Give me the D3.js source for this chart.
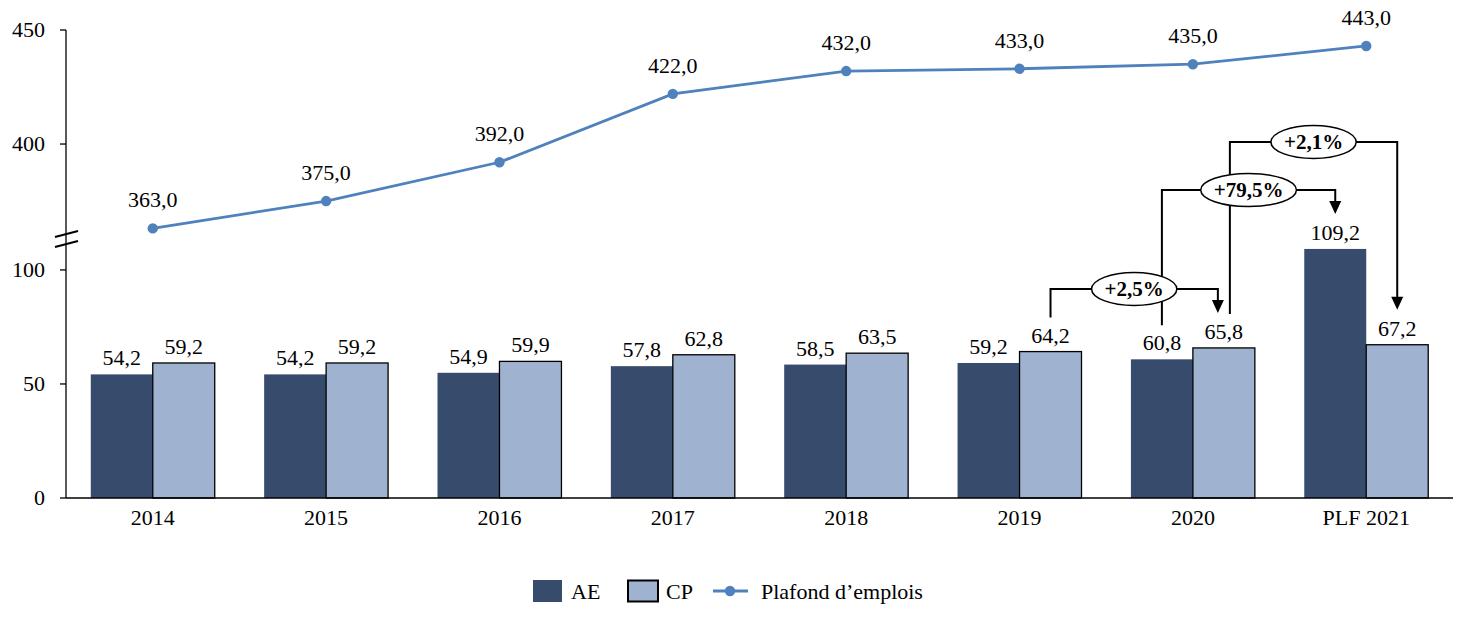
<!DOCTYPE html>
<html><head><meta charset="utf-8">
<script src="https://cdn.jsdelivr.net/npm/d3@7"></script>
<style>body{margin:0;background:#fff}svg{display:block}text{font-family:"Liberation Serif","DejaVu Serif",serif;fill:#000}</style>
</head><body><svg id="c" width="1468" height="617"></svg>
<script>
const categories = ["2014","2015","2016","2017","2018","2019","2020","PLF 2021"];
const seriesNames = ["AE","CP"];
const aeValues = [54.2,54.2,54.9,57.8,58.5,59.2,60.8,109.2];
const cpValues = [59.2,59.2,59.9,62.8,63.5,64.2,65.8,67.2];
const plafondValues = [363,375,392,422,432,433,435,443];
const lowTicks = [0,50,100];
const highTicks = [400,450];
const lineName = "Plafond d\u2019emplois";
const annotations = [
  {label:"+2,5%", from:["2019","CP"], to:["2020","CP"], level:289, fromDx:0, toDx:-6},
  {label:"+79,5%", from:["2020","AE"], to:["PLF 2021","AE"], level:190, fromDx:0, toDx:0},
  {label:"+2,1%", from:["2020","CP"], to:["PLF 2021","CP"], level:142, fromDx:6, toDx:0}
];

const FS = 22;
const fmt = v => v.toFixed(1).replace(".", ",");
const svg = d3.select("#c");
const colors = {AE:"#374c6d", CP:"#9fb2cf", line:"#4f81bd"};

const x = d3.scaleBand().domain(categories).range([66,1453]).paddingInner(0.285).paddingOuter(0.143);
const xs = d3.scaleBand().domain(seriesNames).range([0, x.bandwidth()]);
const yLow = d3.scaleLinear().domain([0,114]).range([498,238]);
const yHigh = d3.scaleLinear().domain([358.8,450]).range([238,30]);

const vals = {AE: aeValues, CP: cpValues};
const barData = [];
categories.forEach((c,i)=>seriesNames.forEach(s=>barData.push({c,s,v:vals[s][i]})));

// bars
svg.append("g").selectAll("rect").data(barData).join("rect")
  .attr("x", d=>x(d.c)+xs(d.s)).attr("y", d=>yLow(d.v))
  .attr("width", xs.bandwidth()).attr("height", d=>yLow(0)-yLow(d.v))
  .attr("fill", d=>colors[d.s])
  .attr("stroke", d=>d.s==="CP"?"#000":"none").attr("stroke-width",1.3);

// bar labels
svg.append("g").selectAll("text").data(barData).join("text")
  .attr("x", d=>x(d.c)+xs(d.s)+xs.bandwidth()/2).attr("y", d=>yLow(d.v)-9)
  .attr("text-anchor","middle").attr("font-size",FS).text(d=>fmt(d.v));

// axes
const ax = svg.append("g");
ax.append("line").attr("x1",66).attr("x2",66).attr("y1",yHigh(450)).attr("y2",yLow(0)).attr("stroke","#000").attr("stroke-width",1.3);
ax.append("line").attr("x1",66).attr("x2",1453).attr("y1",yLow(0)).attr("y2",yLow(0)).attr("stroke","#000").attr("stroke-width",1.3);
const tickAll = lowTicks.map(t=>({t,y:yLow(t)})).concat(highTicks.map(t=>({t,y:yHigh(t)})));
ax.selectAll(".tk").data(tickAll).join("line").attr("class","tk")
  .attr("x1",60).attr("x2",66).attr("y1",d=>d.y).attr("y2",d=>d.y).attr("stroke","#000").attr("stroke-width",1.3);
ax.selectAll(".tl").data(tickAll).join("text").attr("class","tl")
  .attr("x",45).attr("y",d=>d.y+7).attr("text-anchor","end").attr("font-size",FS).text(d=>d.t);
// break marks
[0,10].forEach(o=>ax.append("line").attr("x1",55).attr("y1",237+o).attr("x2",78).attr("y2",231+o).attr("stroke","#000").attr("stroke-width",2));
// x labels
ax.selectAll(".xl").data(categories).join("text").attr("class","xl")
  .attr("x",c=>x(c)+x.bandwidth()/2).attr("y",525).attr("text-anchor","middle").attr("font-size",FS).text(c=>c);

// line
const lineData = categories.map((c,i)=>({c,v:plafondValues[i]}));
svg.append("path").datum(lineData)
  .attr("d", d3.line().x(d=>x(d.c)+x.bandwidth()/2).y(d=>yHigh(d.v)))
  .attr("fill","none").attr("stroke",colors.line).attr("stroke-width",2.8);
svg.append("g").selectAll("circle").data(lineData).join("circle")
  .attr("cx",d=>x(d.c)+x.bandwidth()/2).attr("cy",d=>yHigh(d.v)).attr("r",5.2).attr("fill",colors.line);
svg.append("g").selectAll("text").data(lineData).join("text")
  .attr("x",d=>x(d.c)+x.bandwidth()/2).attr("y",d=>yHigh(d.v)-21)
  .attr("text-anchor","middle").attr("font-size",FS).text(d=>fmt(d.v));

// annotations
const valOf = (c,s)=>vals[s][categories.indexOf(c)];
const cx = (c,s)=>x(c)+xs(s)+xs.bandwidth()/2;
const ag = svg.append("g");
annotations.forEach(a=>{
  const x1 = cx(a.from[0],a.from[1])+a.fromDx;
  const y1 = yLow(valOf(a.from[0],a.from[1]))-9-25;
  const x2 = cx(a.to[0],a.to[1])+a.toDx;
  const y2 = yLow(valOf(a.to[0],a.to[1]))-9-26;
  ag.append("path").attr("d",`M${x1},${y1}V${a.level}H${x2}V${y2-12}`).attr("fill","none").attr("stroke","#000").attr("stroke-width",2);
  ag.append("path").attr("d",`M${x2-6},${y2-13}L${x2+6},${y2-13}L${x2},${y2}Z`).attr("fill","#000");
});
annotations.forEach(a=>{
  const x1 = cx(a.from[0],a.from[1])+a.fromDx;
  const x2 = cx(a.to[0],a.to[1])+a.toDx;
  const mx = (x1+x2)/2;
  const t = ag.append("text").attr("x",mx).attr("y",a.level+7).attr("text-anchor","middle")
    .attr("font-size",FS-1).attr("font-weight","bold").text(a.label);
  const w = t.node().getComputedTextLength();
  ag.insert("ellipse", function(){return t.node();}).attr("cx",mx).attr("cy",a.level).attr("rx",w/2+13).attr("ry",16.5)
    .attr("fill","#fff").attr("stroke","#000").attr("stroke-width",1.5);
});

// legend
const lg = svg.append("g");
lg.append("rect").attr("x",533).attr("y",580).attr("width",29).attr("height",22).attr("fill",colors.AE);
lg.append("text").attr("x",571).attr("y",599).attr("font-size",FS).text(seriesNames[0]);
lg.append("rect").attr("x",628).attr("y",580.5).attr("width",30).attr("height",21).attr("fill",colors.CP).attr("stroke","#000").attr("stroke-width",2);
lg.append("text").attr("x",666).attr("y",599).attr("font-size",FS).text(seriesNames[1]);
lg.append("line").attr("x1",713).attr("x2",748).attr("y1",591).attr("y2",591).attr("stroke",colors.line).attr("stroke-width",2.8);
lg.append("circle").attr("cx",730).attr("cy",591).attr("r",5.2).attr("fill",colors.line);
lg.append("text").attr("x",761).attr("y",599).attr("font-size",FS).text(lineName);
</script></body></html>
